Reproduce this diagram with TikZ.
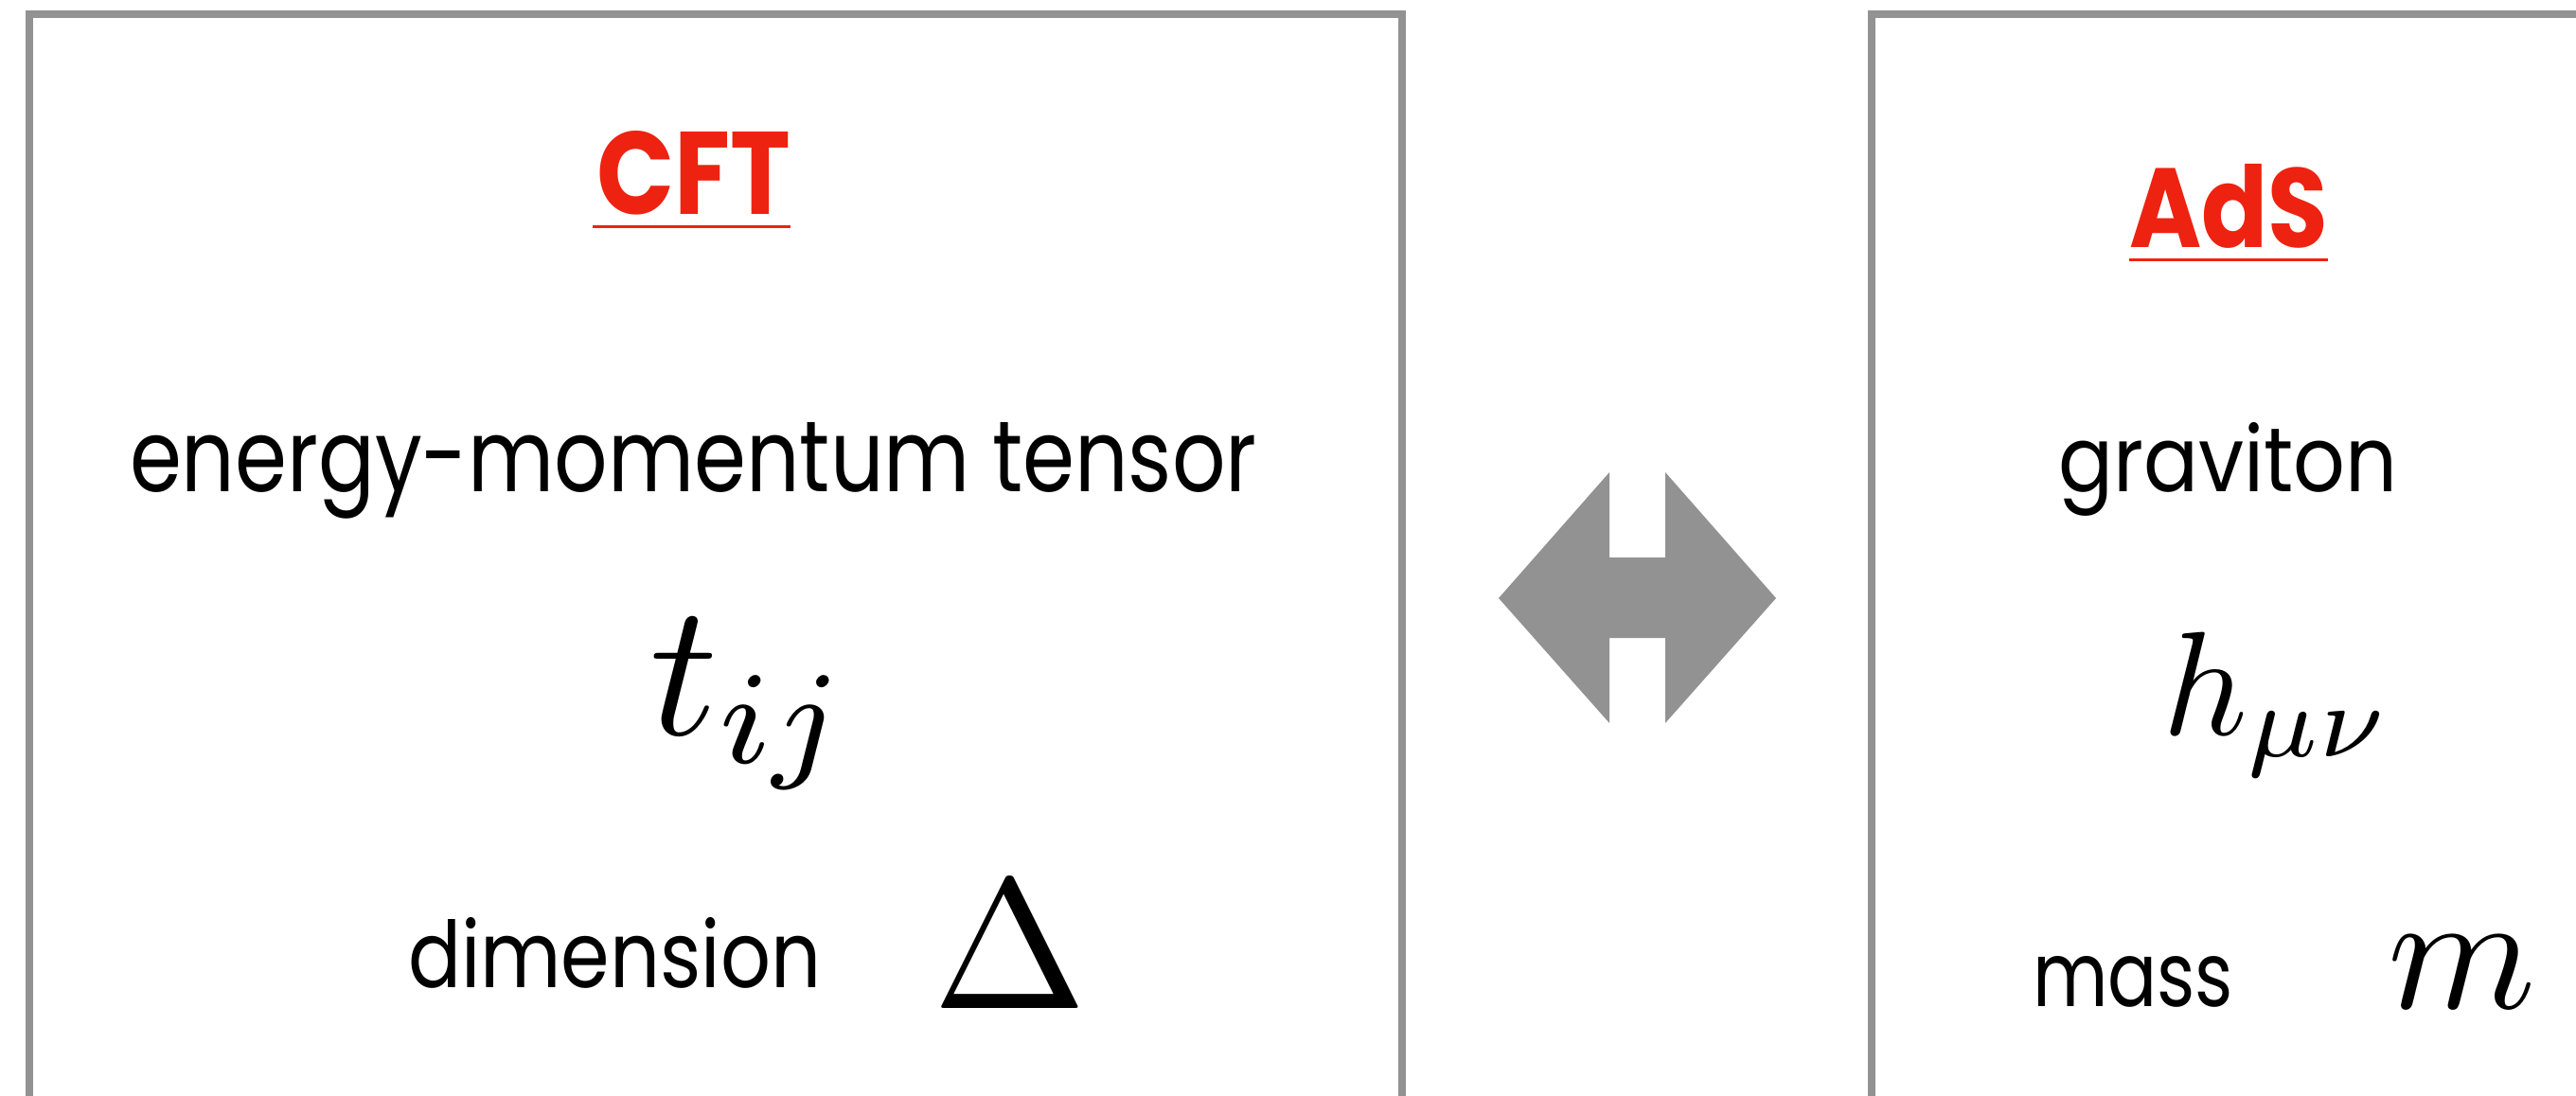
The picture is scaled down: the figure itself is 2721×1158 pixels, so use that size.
\documentclass[tikz,border=0pt]{standalone}
\usepackage{fontspec}
\usepackage{graphicx}
\newfontfamily\chalk{Poppins}
\definecolor{boxgray}{RGB}{146,146,146}
\definecolor{titlered}{RGB}{238,34,17}
\tikzset{
  frame/.style={draw=boxgray, line width=0.08cm},
  txt/.style={anchor=base west, inner sep=0pt, outer sep=0pt, font=\chalk},
  title/.style={txt, text=titlered},
  uline/.style={draw=titlered, line width=0.03cm},
  bigarrow/.style={fill=boxgray, draw=none}
}
\begin{document}
\begin{tikzpicture}[x=0.01cm,y=-0.01cm]
\useasboundingbox (0,0) rectangle (2721,1158);
\clip (0,0) rectangle (2721,1158);
\fill[white] (0,0) rectangle (2721,1158);
% frames
\draw[frame] (31,1300) -- (31,15) -- (1481,15) -- (1481,1300);
\draw[frame] (1977,1300) -- (1977,15) -- (2900,15);
% titles
\node[title] (cft) at (630,227) {\resizebox{2.05cm}{0.88cm}{\bfseries CFT}};
\draw[uline] ([xshift=-0.04cm,yshift=-0.125cm]cft.base west) -- ([yshift=-0.125cm]cft.base east);
\node[title] (ads) at (2249,262) {\resizebox{2.10cm}{0.88cm}{\bfseries AdS}};
\draw[uline] ([yshift=-0.125cm]ads.base west) -- ([yshift=-0.125cm]ads.base east);
% left content
\node[txt] (emt) at (137,520) {\resizebox{11.90cm}{0.73cm}{energy-momentum tensor}};
\node[txt] (tij) at (686,776) {\scalebox{5.69}{$t_{ij}$}};
\node[txt] (dim) at (431,1043) {\resizebox{4.36cm}{0.74cm}{dimension}};
\node[txt] (delta) at (985,1065) {\scalebox{5.56}{$\Delta$}};
% right content
\node[txt] (grav) at (2174,520) {\resizebox{3.58cm}{0.73cm}{graviton}};
\node[txt] (hmn) at (2284,776) {\scalebox{4.44}{$h_{\mu\nu}$}};
\node[txt] (mass) at (2147,1063) {\resizebox{2.12cm}{0.53cm}{mass}};
\node[txt] (m) at (2522,1065) {\scalebox{5.06}{$m$}};
% double arrow
\fill[bigarrow] (1583,632) -- (1700,499) -- (1700,589) -- (1759,589) -- (1759,499)
  -- (1876,632) -- (1759,764) -- (1759,674) -- (1700,674) -- (1700,764) -- cycle;
\end{tikzpicture}
\end{document}
